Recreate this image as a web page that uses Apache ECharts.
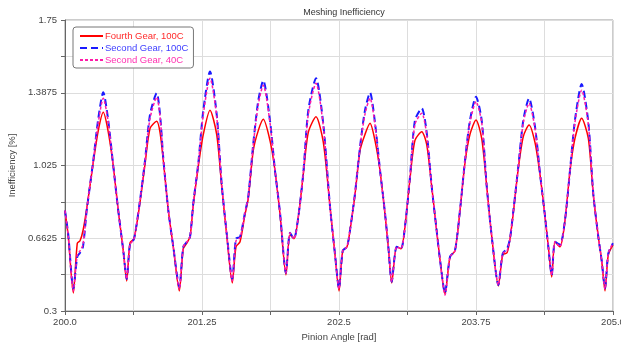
<!DOCTYPE html>
<html>
<head>
<meta charset="utf-8">
<script src="https://cdn.jsdelivr.net/npm/echarts@6/dist/echarts.min.js"></script>
<style>
  html, body { margin: 0; padding: 0; background: #fff; }
  #meshing { width: 621px; height: 343px; }
</style>
</head>
<body>
<div id="meshing"></div>
<script>
// pinion angle [rad]
const angle = [
  200.000, 200.030, 200.076, 200.112, 200.137, 200.164, 200.198, 200.258, 200.304, 200.349,
  200.392, 200.441, 200.486, 200.532, 200.563, 200.593, 200.630, 200.684, 200.730, 200.776,
  200.837, 200.867, 200.897, 200.943, 200.988, 201.043, 201.079, 201.113, 201.141, 201.171,
  201.216, 201.262, 201.323, 201.384, 201.430, 201.475, 201.526, 201.560, 201.597, 201.642,
  201.672, 201.718, 201.764, 201.809, 201.870, 201.916, 201.962, 202.016, 202.053, 202.089,
  202.129, 202.174, 202.220, 202.290, 202.357, 202.418, 202.464, 202.500, 202.534, 202.573,
  202.600, 202.646, 202.692, 202.737, 202.783, 202.828, 202.874, 202.920, 202.950, 202.981,
  203.026, 203.066, 203.102, 203.148, 203.193, 203.255, 203.300, 203.346, 203.391, 203.422,
  203.467, 203.513, 203.558, 203.604, 203.650, 203.695, 203.750, 203.802, 203.848, 203.894,
  203.954, 203.994, 204.033, 204.060, 204.091, 204.136, 204.182, 204.234, 204.288, 204.334,
  204.380, 204.410, 204.441, 204.471, 204.516, 204.562, 204.608, 204.653, 204.714, 204.775,
  204.820, 204.866, 204.897, 204.927, 204.957, 205.000
];
const fourthGear100 = [
  0.80, 0.67, 0.39, 0.637, 0.65, 0.70, 0.81, 1.04, 1.20, 1.29,
  1.20, 1.02, 0.80, 0.60, 0.45, 0.64, 0.66, 0.84, 1.03, 1.21,
  1.245, 1.19, 1.05, 0.80, 0.62, 0.40, 0.61, 0.64, 0.67, 0.83,
  1.02, 1.18, 1.30, 1.18, 0.92, 0.68, 0.44, 0.62, 0.645, 0.78,
  0.86, 1.10, 1.20, 1.255, 1.15, 1.00, 0.78, 0.48, 0.68, 0.66,
  0.77, 0.98, 1.19, 1.268, 1.14, 0.82, 0.58, 0.40, 0.60, 0.62,
  0.70, 0.88, 1.10, 1.18, 1.235, 1.15, 1.00, 0.78, 0.62, 0.44,
  0.62, 0.61, 0.72, 0.96, 1.15, 1.193, 1.13, 0.92, 0.70, 0.554,
  0.385, 0.57, 0.60, 0.80, 1.04, 1.18, 1.252, 1.16, 0.92, 0.67,
  0.425, 0.58, 0.59, 0.66, 0.79, 1.01, 1.17, 1.227, 1.14, 0.98,
  0.77, 0.62, 0.47, 0.645, 0.62, 0.75, 1.00, 1.16, 1.26, 1.16,
  0.88, 0.67, 0.55, 0.40, 0.58, 0.63
];
const secondGear100 = [
  0.80, 0.68, 0.41, 0.57, 0.59, 0.62, 0.80, 1.05, 1.26, 1.39,
  1.26, 1.02, 0.80, 0.60, 0.46, 0.63, 0.66, 0.85, 1.05, 1.28,
  1.385, 1.28, 1.06, 0.80, 0.62, 0.42, 0.62, 0.645, 0.67, 0.84,
  1.035, 1.30, 1.493, 1.28, 0.93, 0.69, 0.46, 0.66, 0.67, 0.79,
  0.87, 1.135, 1.35, 1.448, 1.25, 1.00, 0.79, 0.49, 0.69, 0.66,
  0.77, 0.986, 1.30, 1.46, 1.23, 0.82, 0.58, 0.413, 0.60, 0.62,
  0.70, 0.886, 1.118, 1.30, 1.388, 1.24, 1.003, 0.787, 0.62, 0.446,
  0.62, 0.61, 0.72, 0.97, 1.25, 1.31, 1.19, 0.92, 0.70, 0.554,
  0.39, 0.57, 0.60, 0.803, 1.052, 1.25, 1.368, 1.25, 0.92, 0.67,
  0.43, 0.587, 0.61, 0.66, 0.80, 1.02, 1.252, 1.36, 1.22, 0.986,
  0.77, 0.62, 0.479, 0.645, 0.63, 0.753, 1.003, 1.252, 1.431, 1.24,
  0.886, 0.67, 0.55, 0.413, 0.587, 0.637
];
const secondGear40 = [
  0.80, 0.67, 0.40, 0.58, 0.60, 0.63, 0.80, 1.05, 1.24, 1.36,
  1.25, 1.02, 0.80, 0.60, 0.46, 0.63, 0.66, 0.85, 1.05, 1.26,
  1.365, 1.27, 1.06, 0.80, 0.62, 0.41, 0.62, 0.645, 0.67, 0.84,
  1.035, 1.28, 1.46, 1.27, 0.93, 0.69, 0.45, 0.65, 0.665, 0.79,
  0.87, 1.13, 1.33, 1.425, 1.24, 1.00, 0.79, 0.49, 0.69, 0.66,
  0.77, 0.986, 1.28, 1.435, 1.22, 0.82, 0.58, 0.41, 0.60, 0.62,
  0.70, 0.886, 1.118, 1.28, 1.36, 1.23, 1.003, 0.787, 0.62, 0.446,
  0.62, 0.61, 0.72, 0.97, 1.23, 1.285, 1.18, 0.92, 0.70, 0.554,
  0.38, 0.57, 0.60, 0.803, 1.052, 1.24, 1.343, 1.24, 0.92, 0.67,
  0.43, 0.587, 0.60, 0.66, 0.80, 1.02, 1.24, 1.335, 1.21, 0.986,
  0.77, 0.62, 0.479, 0.645, 0.62, 0.753, 1.003, 1.24, 1.40, 1.23,
  0.886, 0.67, 0.55, 0.41, 0.587, 0.64
];
const yTicks = [0.3, 0.48125, 0.6625, 0.84375, 1.025, 1.20625, 1.3875, 1.56875, 1.75];
const yLabels = [0.3, 0.6625, 1.025, 1.3875, 1.75];

const font = '"Liberation Sans", Arial, sans-serif';
const fs = 9.5;
const pair = (ys) => angle.map((x, i) => [x, ys[i]]);

let myChart = echarts.init(document.getElementById('meshing'));
myChart.setOption({
  animation: false,
  title: {
    text: 'Meshing Inefficiency',
    left: 339,
    textAlign: 'center',
    top: 3,
    textStyle: { fontSize: 9, fontWeight: 'normal', color: '#333', fontFamily: font }
  },
  legend: {
    orient: 'vertical',
    left: 73,
    top: 27,
    padding: [4, 5, 3, 6],
    itemGap: 2,
    itemWidth: 23,
    itemHeight: 10,
    backgroundColor: '#fff',
    borderColor: '#777',
    borderWidth: 1,
    borderRadius: 3,
    itemStyle: { color: 'transparent', borderColor: 'transparent', borderWidth: 0, opacity: 0 },
    textStyle: { fontSize: fs, fontFamily: font, padding: [0, 0, 0, -3] },
    data: [
      { name: 'Fourth Gear, 100C', textStyle: { color: '#ff2a2a' } },
      { name: 'Second Gear, 100C', textStyle: { color: '#4040ff' } },
      { name: 'Second Gear, 40C', textStyle: { color: '#ff30b0' } }
    ]
  },
  grid: {
    left: 65, right: 8, top: 20, bottom: 32,
    outerBoundsMode: 'none',
    containLabel: false,
    show: true, borderColor: '#999', borderWidth: 1
  },
  xAxis: {
    type: 'value',
    min: 200, max: 205, interval: 0.625,
    name: 'Pinion Angle [rad]',
    nameLocation: 'middle',
    nameGap: 21,
    nameTextStyle: { fontSize: fs, color: '#444', fontFamily: font },
    axisLine: { lineStyle: { color: '#666' } },
    axisTick: { length: 4, lineStyle: { color: '#666' } },
    axisLabel: {
      fontSize: fs, color: '#444', fontFamily: font, margin: 6,
      formatter: (v) => {
        if (Math.round((v - 200) / 0.625) % 2 !== 0) return '';
        return Number.isInteger(v) ? v.toFixed(1) : String(v);
      }
    },
    splitLine: { show: true, lineStyle: { color: '#ddd' } }
  },
  yAxis: {
    type: 'value',
    min: 0.3, max: 1.75,
    name: 'Inefficiency [%]',
    nameLocation: 'middle',
    nameGap: 48,
    nameTextStyle: { fontSize: fs, color: '#444', fontFamily: font },
    axisLine: { show: true, lineStyle: { color: '#666' } },
    axisTick: { show: true, length: 4, customValues: yTicks, lineStyle: { color: '#666' } },
    axisLabel: { fontSize: fs, color: '#444', fontFamily: font, margin: 8, customValues: yLabels },
    splitLine: { show: true, lineStyle: { color: '#ddd' } }
  },
  series: [{
    name: 'Fourth Gear, 100C',
    type: 'line',
    data: pair(fourthGear100),
    symbol: 'none',
    smooth: 0.25,
    color: '#ff0000',
    lineStyle: { color: '#ff0000', width: 1.5 }
  }, {
    name: 'Second Gear, 100C',
    type: 'line',
    data: pair(secondGear100),
    symbol: 'none',
    smooth: 0.25,
    color: '#1a1aff',
    lineStyle: { color: '#1a1aff', width: 2, type: [7, 4] }
  }, {
    name: 'Second Gear, 40C',
    type: 'line',
    data: pair(secondGear40),
    symbol: 'none',
    smooth: 0.25,
    color: '#ff1aa8',
    lineStyle: { color: '#ff1aa8', width: 1.5, type: [3, 2] }
  }]
});

window.addEventListener('resize', function() {
  myChart.resize();
});
</script>
</body>
</html>
